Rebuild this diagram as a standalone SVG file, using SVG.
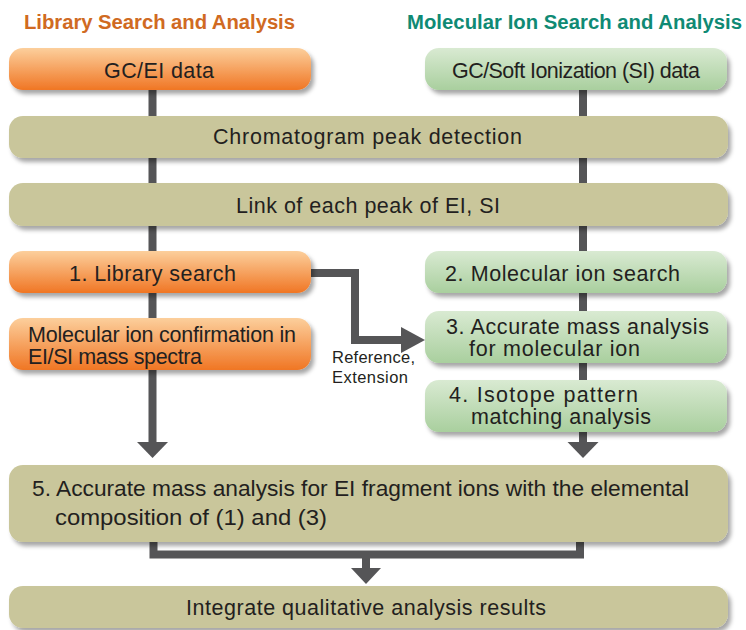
<svg xmlns="http://www.w3.org/2000/svg" width="746" height="630" viewBox="0 0 746 630">
<style>
.t{font-family:"Liberation Sans",Arial,sans-serif;font-size:21.5px;fill:#231f20}
.h{font-family:"Liberation Sans",Arial,sans-serif;font-size:20.3px;font-weight:bold}
.s{font-family:"Liberation Sans",Arial,sans-serif;font-size:16.5px;fill:#231f20}
.ln{stroke:#555557;stroke-width:8;fill:none}
.hd{fill:#555557}
</style>
<defs>
<linearGradient id="og" x1="0" y1="0" x2="0" y2="1"><stop offset="0" stop-color="#fccf9c"/><stop offset="1" stop-color="#f07624"/></linearGradient>
<linearGradient id="gg" x1="0" y1="0" x2="0" y2="1"><stop offset="0" stop-color="#d9ead2"/><stop offset="1" stop-color="#a9cf9e"/></linearGradient>
<filter id="sh" x="-5%" y="-20%" width="110%" height="150%"><feDropShadow dx="3" dy="4" stdDeviation="2" flood-color="#000" flood-opacity="0.35"/></filter>
</defs>
<text class="h" x="24" y="29" fill="#d06a22" textLength="271">Library Search and Analysis</text>
<text class="h" x="407" y="29" fill="#0f8a74" textLength="335">Molecular Ion Search and Analysis</text>
<g id="connectors">
<line class="ln" x1="152.5" y1="88" x2="152.5" y2="444"/>
<polygon class="hd" points="137,442 168,442 152.5,458"/>
<line class="ln" x1="583" y1="88" x2="583" y2="444"/>
<polygon class="hd" points="567.5,442 598.5,442 583,458"/>
<polyline class="ln" points="153.5,540 153.5,554.5 580,554.5 580,540"/>
<line class="ln" x1="366" y1="554" x2="366" y2="570"/>
<polygon class="hd" points="351,568 381,568 366,584"/>
<polyline class="ln" points="308,273 355,273 355,340 404,340"/>
<polygon class="hd" points="401,327 425,340 401,353"/>
</g>
<g id="gcei"><rect x="9" y="48" width="302" height="42" rx="14" fill="url(#og)" filter="url(#sh)"/><text class="t" x="104" y="78" textLength="110">GC/EI data</text></g>
<g id="gcsi"><rect x="425" y="48" width="302" height="42" rx="14" fill="url(#gg)" filter="url(#sh)"/><text class="t" x="452" y="78" textLength="248">GC/Soft Ionization (SI) data</text></g>
<g id="chrom"><rect x="9" y="116" width="719" height="42" rx="14" fill="#c9c69b" filter="url(#sh)"/><text class="t" x="213" y="144" textLength="309">Chromatogram peak detection</text></g>
<g id="link"><rect x="9" y="183" width="719" height="43" rx="14" fill="#c9c69b" filter="url(#sh)"/><text class="t" x="236" y="213" textLength="264">Link of each peak of EI, SI</text></g>
<g id="lib"><rect x="9" y="251" width="302" height="42" rx="14" fill="url(#og)" filter="url(#sh)"/><text class="t" x="69" y="281" textLength="167">1. Library search</text></g>
<g id="molsearch"><rect x="425" y="251" width="302" height="42" rx="14" fill="url(#gg)" filter="url(#sh)"/><text class="t" x="445" y="281" textLength="235">2. Molecular ion search</text></g>
<g id="confirm"><rect x="9" y="318" width="302" height="52" rx="14" fill="url(#og)" filter="url(#sh)"/><text class="t" x="28" y="342" textLength="268">Molecular ion confirmation in</text><text class="t" x="28" y="364" textLength="174">EI/SI mass spectra</text></g>
<g id="accurate"><rect x="425" y="311" width="302" height="52" rx="14" fill="url(#gg)" filter="url(#sh)"/><text class="t" x="446" y="334" textLength="263">3. Accurate mass analysis</text><text class="t" x="469" y="356" textLength="171">for molecular ion</text></g>
<g id="isotope"><rect x="425" y="380" width="302" height="52" rx="14" fill="url(#gg)" filter="url(#sh)"/><text class="t" x="449" y="402" textLength="189">4. Isotope pattern</text><text class="t" x="471" y="424" textLength="180">matching analysis</text></g>
<text class="s" x="332" y="363" textLength="83">Reference,</text>
<text class="s" x="332" y="383" textLength="76">Extension</text>
<g id="frag"><rect x="9" y="465" width="719" height="77" rx="14" fill="#c9c69b" filter="url(#sh)"/><text class="t" x="32" y="496" textLength="657" lengthAdjust="spacingAndGlyphs">5. Accurate mass analysis for EI fragment ions with the elemental</text><text class="t" x="55" y="525" textLength="272" lengthAdjust="spacingAndGlyphs">composition of (1) and (3)</text></g>
<g id="integrate"><rect x="9" y="586" width="719" height="42" rx="14" fill="#c9c69b" filter="url(#sh)"/><text class="t" x="186" y="615" textLength="360">Integrate qualitative analysis results</text></g>
</svg>
